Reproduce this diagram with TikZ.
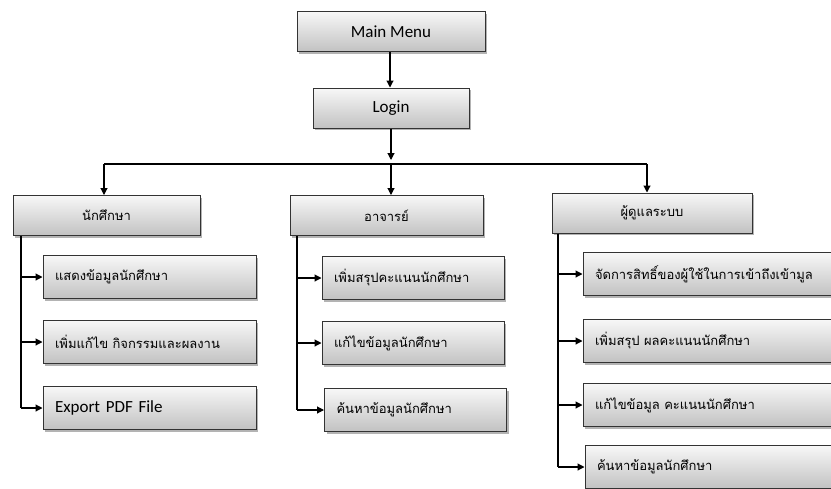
\documentclass[tikz,border=0pt]{standalone}
\usepackage{fontspec}
\setmainfont{Carlito}
\newfontfamily\thaifont[Script=Thai]{Loma}
\usetikzlibrary{arrows.meta, shadows}

\begin{document}
\begin{tikzpicture}[x=1pt, y=-1pt,
  box/.style={draw=black!80, line width=1pt, top color=gray!6, bottom color=gray!48,
    drop shadow={shadow xshift=2pt, shadow yshift=-2pt, fill=black!50, opacity=0.6},
    minimum height=40pt, inner sep=0pt, font=\fontsize{17}{20}\selectfont},
  subbox/.style={box, minimum height=43pt, align=left, inner xsep=12pt},
  thai/.style={font=\thaifont\fontsize{13}{16}\selectfont},
  arr/.style={line width=1.1pt, -{Triangle[length=7pt, width=7pt]}},
  link/.style={line width=1.1pt}]

\clip (0,0) rectangle (831,488);

% top
\node[box, minimum width=188pt] (main) at (391,31.5) {Main Menu};
\node[box, minimum width=156pt] (login) at (391,108) {Login};
\draw[arr] (main.south -| 390,0) -- (login.north -| 390,0);

% users
\node[box, thai, minimum width=187pt] (student) at (106.5,215.5) {นักศึกษา};
\node[box, thai, minimum width=193pt] (teacher) at (386.5,215.5) {อาจารย์};
\node[box, thai, minimum width=200pt] (admin) at (652,213) {ผู้ดูแลระบบ};

\coordinate (hub) at (391,160);
\coordinate (barL) at (104,164);
\coordinate (barM) at (391,164);
\coordinate (barR) at (647,164);
\draw[arr] (login.south -| hub) -- (hub);
\draw[link] (barL) -- (barR);
\draw[arr] (barL) -- (barL |- student.north);
\draw[arr] (barM) -- (barM |- teacher.north);
\draw[arr] (barR) -- (barR |- admin.north);

% student menu
\node[subbox, thai, text width=189pt] (st1) at (149.5,277) {แสดงข้อมูลนักศึกษา};
\node[subbox, thai, text width=189pt] (st2) at (149.5,342) {เพิ่มแก้ไข กิจกรรมและผลงาน};
\node[subbox, text width=189pt] (st3) at (149.5,408) {Export PDF File};
\coordinate (stL) at (21,0);
\draw[link] (student.south -| stL) -- (stL |- st3.west);
\draw[arr] (stL |- st1.west) -- (st1.west);
\draw[arr] (stL |- st2.west) -- (st2.west);
\draw[arr] (stL |- st3.west) -- (st3.west);

% teacher menu
\node[subbox, thai, text width=158pt] (te1) at (413,278) {เพิ่มสรุปคะแนนนักศึกษา};
\node[subbox, thai, text width=158pt] (te2) at (413,343) {แก้ไขข้อมูลนักศึกษา};
\node[subbox, thai, text width=158pt] (te3) at (415.5,410) {ค้นหาข้อมูลนักศึกษา};
\coordinate (teL) at (297,0);
\draw[link] (teacher.south -| teL) -- (teL |- te3.west);
\draw[arr] (teL |- te1.west) -- (te1.west);
\draw[arr] (teL |- te2.west) -- (te2.west);
\draw[arr] (teL |- te3.west) -- (te3.west);

% admin menu
\node[subbox, thai, text width=256pt] (ad1) at (723,274) {จัดการสิทธิ์ของผู้ใช้ในการเข้าถึงเข้ามูล};
\node[subbox, thai, text width=256pt] (ad2) at (723,341) {เพิ่มสรุป ผลคะแนนนักศึกษา};
\node[subbox, thai, text width=256pt] (ad3) at (723,405) {แก้ไขข้อมูล คะแนนนักศึกษา};
\node[subbox, thai, text width=256pt] (ad4) at (725,467) {ค้นหาข้อมูลนักศึกษา};
\coordinate (adL) at (558,0);
\draw[link] (admin.south -| adL) -- (adL |- ad4.west);
\draw[arr] (adL |- ad1.west) -- (ad1.west);
\draw[arr] (adL |- ad2.west) -- (ad2.west);
\draw[arr] (adL |- ad3.west) -- (ad3.west);
\draw[arr] (adL |- ad4.west) -- (ad4.west);

\end{tikzpicture}
\end{document}
